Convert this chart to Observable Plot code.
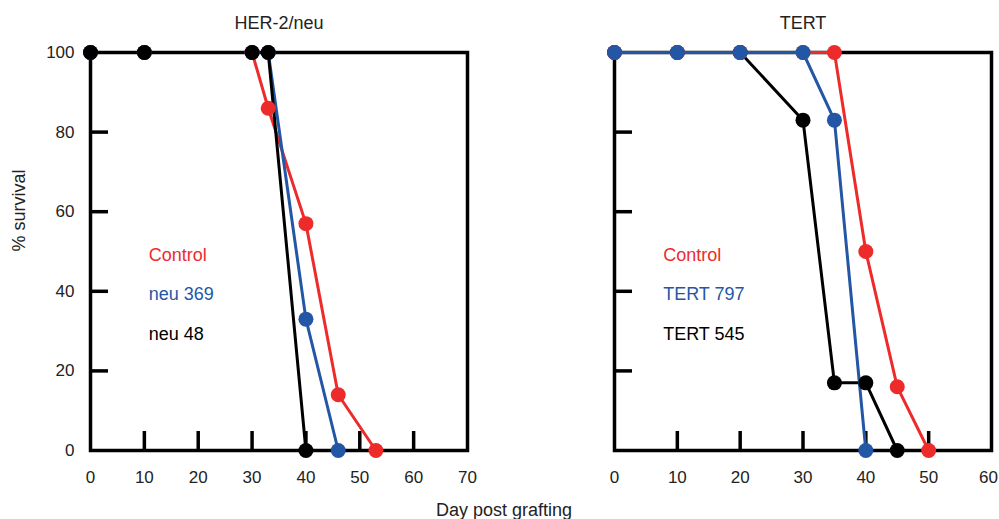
<!DOCTYPE html>
<html>
<head>
<meta charset="utf-8">
<script src="https://cdn.jsdelivr.net/npm/d3@7"></script>
<script src="https://cdn.jsdelivr.net/npm/@observablehq/plot@0.6"></script>
<style>
  html, body { margin: 0; padding: 0; background: #fff; }
  #fig { position: relative; width: 999px; height: 519px; overflow: hidden; font-family: 'Liberation Sans', Arial, Helvetica, sans-serif; }
  #left, #right { position: absolute; top: 0; }
  #left { left: 0; }
  #right { left: 500px; }
  #xlabel { position: absolute; left: 354px; width: 300px; top: 501px; text-align: center; font-size: 18px; line-height: 18px; color: #222; }
</style>
</head>
<body>
<div id="fig">
  <div id="left"></div>
  <div id="right"></div>
  <div id="xlabel">Day post grafting</div>
</div>
<script>
// ---- Data ----
const panelTitles = ["HER-2/neu", "TERT"];
const yLabel = "% survival";

// HER-2/neu panel
const herNames = ["Control", "neu 369", "neu 48"];
const herControlDay  = [0, 10, 30, 33, 40, 46, 53];
const herControlSurv = [100, 100, 100, 86, 57, 14, 0];
const neu369Day  = [0, 10, 30, 33, 40, 46];
const neu369Surv = [100, 100, 100, 100, 33, 0];
const neu48Day  = [0, 10, 30, 33, 40];
const neu48Surv = [100, 100, 100, 100, 0];

// TERT panel
const tertNames = ["Control", "TERT 797", "TERT 545"];
const tertControlDay  = [0, 10, 20, 30, 35, 40, 45, 50];
const tertControlSurv = [100, 100, 100, 100, 100, 50, 16, 0];
const tert797Day  = [0, 10, 20, 30, 35, 40];
const tert797Surv = [100, 100, 100, 100, 83, 0];
const tert545Day  = [0, 10, 20, 30, 35, 40, 45];
const tert545Surv = [100, 100, 100, 83, 17, 17, 0];

// Axis ticks
const herXTickLabels = [0, 10, 20, 30, 40, 50, 60, 70];
const herXTickMarks = [10, 20, 30, 40, 50, 60];
const tertXTickLabels = [0, 10, 20, 30, 40, 50, 60];
const tertXTickMarks = [10, 20, 30, 40, 50];
const yTickLabels = [0, 20, 40, 60, 80, 100];
const yTickMarks = [20, 40, 60, 80];

// ---- Styles ----
const RED = "#ee2b2b", BLUE = "#2456a6", BLACK = "#000000";
const FONT = "'Liberation Sans', Arial, Helvetica, sans-serif";

function rows(day, surv) { return day.map((d, i) => ({day: d, surv: surv[i]})); }

function panel({title, seriesList, legendOrder, xDomain, xLabels, xMarks, width, marginLeft, marginRight, showYLabels, legendDx, lastLabelDx}) {
  const marks = [
    Plot.frame({strokeWidth: 3.5, stroke: "#000"}),
    Plot.axisX(xMarks, {tickSize: 19, dy: -19, tickFormat: () => "", strokeWidth: 3.5, stroke: "#000", label: null}),
    Plot.axisY(yTickMarks, {tickSize: 18, dx: 18, tickFormat: () => "", strokeWidth: 3.5, stroke: "#000", label: null}),
    Plot.axisX(xLabels.slice(0, -1), {tickSize: 0, tickPadding: 20, fontSize: 17, fill: "#222", label: null}),
    Plot.axisX(xLabels.slice(-1), {tickSize: 0, tickPadding: 20, fontSize: 17, fill: "#222", label: null, dx: lastLabelDx})
  ];
  if (showYLabels) {
    marks.push(Plot.axisY(yTickLabels, {tickSize: 0, tickPadding: 16, fontSize: 17, fill: "#222", label: null}));
    marks.push(Plot.text([yLabel], {frameAnchor: "left", dx: -71.5, rotate: -90, fontSize: 18, fill: "#222", lineAnchor: "middle"}));
  }
  for (const s of seriesList) {
    marks.push(Plot.line(rows(s.day, s.surv), {x: "day", y: "surv", stroke: s.color, strokeWidth: 3}));
  }
  for (const s of seriesList) {
    marks.push(Plot.dot(rows(s.day, s.surv), {x: "day", y: "surv", r: 7.5, fill: s.color}));
  }
  legendOrder.forEach((s, i) => {
    marks.push(Plot.text([s.name], {frameAnchor: "top-left", dx: legendDx, dy: 202.5 + i * 39.5, textAnchor: "start", lineAnchor: "middle", fontSize: 18, fill: s.color}));
  });
  marks.push(Plot.text([title], {frameAnchor: "top", dy: -29.5, lineAnchor: "middle", fontSize: 18, fill: "#222"}));
  return Plot.plot({
    width, height: 519,
    marginLeft, marginRight, marginTop: 52, marginBottom: 69,
    style: {fontFamily: FONT, fontSize: "17px", color: "#000", background: "transparent"},
    x: {domain: xDomain, label: null},
    y: {domain: [0, 100], label: null},
    marks
  });
}

const herControl = {name: herNames[0], color: RED, day: herControlDay, surv: herControlSurv};
const neu369 = {name: herNames[1], color: BLUE, day: neu369Day, surv: neu369Surv};
const neu48 = {name: herNames[2], color: BLACK, day: neu48Day, surv: neu48Surv};

const tertControl = {name: tertNames[0], color: RED, day: tertControlDay, surv: tertControlSurv};
const tert797 = {name: tertNames[1], color: BLUE, day: tert797Day, surv: tert797Surv};
const tert545 = {name: tertNames[2], color: BLACK, day: tert545Day, surv: tert545Surv};

document.getElementById("left").append(panel({
  title: panelTitles[0],
  seriesList: [herControl, neu369, neu48],
  legendOrder: [herControl, neu369, neu48],
  xDomain: [0, 70], xLabels: herXTickLabels, xMarks: herXTickMarks,
  width: 500, marginLeft: 90, marginRight: 33, showYLabels: true, legendDx: 58.3, lastLabelDx: 0
}));

document.getElementById("right").append(panel({
  title: panelTitles[1],
  seriesList: [tert545, tertControl, tert797],
  legendOrder: [tertControl, tert797, tert545],
  xDomain: [0, 60], xLabels: tertXTickLabels, xMarks: tertXTickMarks,
  width: 499, marginLeft: 114, marginRight: 8, showYLabels: false, legendDx: 48.7, lastLabelDx: -3
}));
</script>
</body>
</html>
